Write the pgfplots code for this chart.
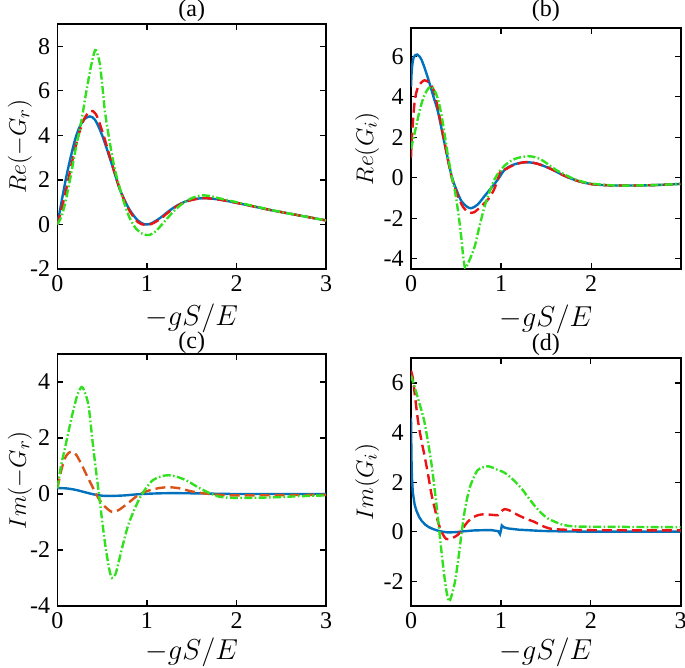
\documentclass[border=0pt]{standalone}
\usepackage{pgfplots}
\pgfplotsset{compat=1.18}
\usepackage{fontspec}
\setmainfont{Liberation Serif}
\definecolor{mblue}{rgb}{0,0.447,0.741}
\definecolor{mred}{rgb}{0.92,0.08,0.08}
\definecolor{morange}{rgb}{0.85,0.325,0.098}
\definecolor{mgreen}{RGB}{50,225,30}
\pgfplotsset{
  common/.style={
    scale only axis,
    xmin=0, xmax=3,
    tick align=inside,
    xtick pos=both, ytick pos=both,
    xticklabel pos=lower, yticklabel pos=left,
    major tick length=3pt,
    every tick/.style={black, line width=0.6pt},
    axis line style={black, line width=0.9pt},
    /pgf/number format/assume math mode=true,
    ticklabel style={font=\fontsize{12}{14}\selectfont},
    xticklabel style={inner sep=1pt, yshift=-2pt},
    yticklabel style={inner sep=1pt, xshift=-2.5pt},
    label style={font=\fontsize{14}{16}\selectfont, inner sep=0pt},
    ylabel style={font=\fontsize{13}{15}\selectfont},
    every axis title/.style={font=\fontsize{12}{14}\selectfont, anchor=center, inner sep=0pt},
    xlabel={$-gS/E$},
  },
  sb/.style={color=mblue, solid, line width=1.2pt},
  sr/.style={color=mred, line width=1.2pt, dash pattern=on 5pt off 2.5pt},
  so/.style={color=morange, line width=1.2pt, dash pattern=on 5pt off 2.5pt},
  sg/.style={color=mgreen, line width=1.2pt, dash pattern=on 4pt off 1.2pt on 0.8pt off 1.2pt},
}
\begin{document}
\begin{tikzpicture}
\path[use as bounding box] (0,0) rectangle (342.5pt,334pt);
% (a)
\begin{axis}[common, at={(28.7pt,199.5pt)}, anchor=south west,
  width=134.35pt, height=122.5pt, ymin=-2, ymax=9, xtick={0,1,2,3}, ytick={-2,0,2,4,6,8},
  title={(a)}, title style={at={(axis description cs:0.5,1.053)}},
  ylabel={$Re(-G_r)$},
  xlabel style={at={(axis description cs:0.5,-0.2)}, anchor=center},
  ylabel style={at={(axis description cs:-0.14,0.5)}, anchor=center}]
\addplot[sb, smooth] coordinates {(0,0) (0.05,1.1) (0.1,2.15) (0.15,3.05) (0.2,3.85) (0.25,4.4) (0.3,4.72) (0.36,4.85) (0.42,4.7) (0.5,4.0) (0.6,2.8) (0.7,1.55) (0.8,0.7) (0.9,0.17) (0.98,0.0) (1.05,0.05) (1.15,0.3) (1.25,0.62) (1.35,0.88) (1.45,1.06) (1.55,1.15) (1.65,1.18) (1.8,1.12) (2.0,0.97) (2.2,0.8) (2.4,0.63) (2.6,0.48) (2.8,0.33) (3.0,0.18)};
\addplot[sr, smooth] coordinates {(0,0) (0.05,0.75) (0.1,1.6) (0.15,2.55) (0.2,3.45) (0.25,4.2) (0.3,4.75) (0.37,5.1) (0.43,4.95) (0.5,4.2) (0.6,2.85) (0.7,1.55) (0.8,0.65) (0.9,0.1) (0.98,-0.02) (1.05,0.02) (1.15,0.25) (1.25,0.58) (1.35,0.86) (1.45,1.04) (1.55,1.14) (1.65,1.18) (1.8,1.12) (2.0,0.97) (2.2,0.8) (2.4,0.63) (2.6,0.48) (2.8,0.33) (3.0,0.18)};
\addplot[sg, smooth] coordinates {(0,0) (0.05,0.4) (0.1,1.2) (0.15,2.2) (0.2,3.3) (0.27,4.7) (0.32,5.9) (0.37,7.0) (0.41,7.7) (0.43,7.82) (0.47,7.3) (0.5,6.3) (0.53,5.1) (0.58,3.8) (0.64,2.5) (0.72,1.3) (0.8,0.35) (0.88,-0.2) (0.96,-0.44) (1.03,-0.47) (1.1,-0.3) (1.2,0.15) (1.3,0.6) (1.4,0.95) (1.5,1.18) (1.6,1.3) (1.7,1.28) (1.8,1.18) (2.0,1.0) (2.2,0.82) (2.4,0.64) (2.6,0.48) (2.8,0.33) (3.0,0.18)};
\end{axis}
% (b)
\begin{axis}[common, at={(205.5pt,199.5pt)}, anchor=south west,
  width=134.85pt, height=120.5pt, xmax=2.995, ymin=-4.5, ymax=7.4, xtick={0,1,2}, ytick={-4,-2,0,2,4,6},
  title={(b)}, title style={at={(axis description cs:0.5,1.07)}},
  ylabel={$Re(G_i)$},
  xlabel style={at={(axis description cs:0.5,-0.207)}, anchor=center},
  ylabel style={at={(axis description cs:-0.163,0.5)}, anchor=center}]
\addplot[sb, smooth] coordinates {(0,4.5) (0.01,5.4) (0.03,5.95) (0.07,6.09) (0.12,5.8) (0.19,4.9) (0.25,4.0) (0.3,3.25) (0.37,1.76) (0.45,0.11) (0.51,-0.65) (0.56,-1.15) (0.62,-1.42) (0.67,-1.5) (0.74,-1.32) (0.82,-0.88) (0.9,-0.45) (0.97,-0.05) (1.04,0.4) (1.12,0.62) (1.2,0.73) (1.28,0.77) (1.36,0.74) (1.43,0.66) (1.55,0.45) (1.65,0.22) (1.73,0.05) (1.85,-0.15) (1.99,-0.3) (2.15,-0.36) (2.36,-0.38) (2.6,-0.37) (2.8,-0.34) (2.99,-0.3)};
\addplot[sr, smooth] coordinates {(0,1.0) (0.01,2.0) (0.04,3.74) (0.08,4.5) (0.15,4.82) (0.21,4.65) (0.26,4.24) (0.3,3.4) (0.37,1.8) (0.45,0.05) (0.52,-0.9) (0.58,-1.45) (0.64,-1.7) (0.7,-1.7) (0.78,-1.4) (0.86,-1.04) (0.93,-0.5) (0.99,0.3) (1.02,0.5) (1.05,0.42) (1.1,0.55) (1.2,0.72) (1.28,0.78) (1.36,0.74) (1.43,0.66) (1.55,0.45) (1.65,0.22) (1.73,0.05) (1.85,-0.15) (1.99,-0.3) (2.15,-0.36) (2.36,-0.38) (2.6,-0.37) (2.8,-0.34) (2.99,-0.3)};
\addplot[sg, smooth] coordinates {(0,1.43) (0.05,2.4) (0.1,3.4) (0.15,4.1) (0.2,4.45) (0.23,4.49) (0.27,4.25) (0.31,3.7) (0.35,2.8) (0.41,1.1) (0.45,0.1) (0.49,-0.7) (0.53,-1.9) (0.56,-3.0) (0.58,-3.9) (0.6,-4.45) (0.62,-4.35) (0.66,-3.95) (0.71,-3.35) (0.76,-2.4) (0.82,-1.37) (0.88,-0.6) (0.93,-0.05) (0.98,0.3) (1.04,0.61) (1.12,0.87) (1.2,1.0) (1.3,1.07) (1.38,1.02) (1.43,0.94) (1.52,0.68) (1.6,0.42) (1.73,0.11) (1.85,-0.12) (2.0,-0.28) (2.2,-0.36) (2.36,-0.38) (2.6,-0.37) (2.8,-0.34) (2.99,-0.3)};
\end{axis}
% (c)
\begin{axis}[common, at={(28.7pt,31pt)}, anchor=south west,
  width=134.35pt, height=126pt, ymin=-4, ymax=5, xtick={0,1,2,3}, ytick={-4,-2,0,2,4},
  title={(c)}, title style={at={(axis description cs:0.5,1.044)}},
  ylabel={$Im(-G_r)$},
  xlabel style={at={(axis description cs:0.5,-0.183)}, anchor=center},
  ylabel style={at={(axis description cs:-0.14,0.5)}, anchor=center}]
\addplot[sb, smooth] coordinates {(0,0.21) (0.1,0.2) (0.2,0.15) (0.3,0.07) (0.4,-0.01) (0.5,-0.06) (0.6,-0.07) (0.75,-0.05) (0.9,-0.01) (1.1,0.02) (1.3,0.03) (1.6,0.02) (2.0,0.0) (3.0,0.0)};
\addplot[so, smooth] coordinates {(0,0.2) (0.04,0.8) (0.08,1.25) (0.12,1.45) (0.16,1.51) (0.21,1.4) (0.27,1.05) (0.33,0.65) (0.38,0.33) (0.46,-0.16) (0.53,-0.45) (0.61,-0.64) (0.68,-0.58) (0.76,-0.4) (0.83,-0.22) (0.9,-0.04) (0.98,0.08) (1.05,0.15) (1.15,0.22) (1.25,0.24) (1.35,0.21) (1.45,0.13) (1.55,0.06) (1.7,0.0) (1.85,-0.04) (2.0,-0.05) (2.5,-0.04) (3.0,-0.03)};
\addplot[sg, smooth] coordinates {(0,0.2) (0.04,1.0) (0.086,1.66) (0.16,2.75) (0.22,3.5) (0.27,3.82) (0.31,3.6) (0.35,3.1) (0.4,1.66) (0.46,0.09) (0.53,-1.72) (0.58,-2.7) (0.61,-3.0) (0.65,-2.85) (0.69,-2.35) (0.74,-1.7) (0.79,-1.12) (0.86,-0.55) (0.94,-0.03) (1.05,0.45) (1.15,0.62) (1.24,0.67) (1.35,0.6) (1.46,0.45) (1.58,0.22) (1.7,0.03) (1.8,-0.09) (1.9,-0.13) (2.1,-0.14) (2.4,-0.12) (2.7,-0.08) (3.0,-0.05)};
\end{axis}
% (d)
\begin{axis}[common, at={(205.5pt,31pt)}, anchor=south west,
  width=134.85pt, height=123.85pt, ymin=-3, ymax=7, xtick={0,1,2,3}, ytick={-2,0,2,4,6},
  title={(d)}, title style={at={(axis description cs:0.5,1.053)}},
  ylabel={$Im(G_i)$},
  xlabel style={at={(axis description cs:0.5,-0.186)}, anchor=center},
  ylabel style={at={(axis description cs:-0.163,0.5)}, anchor=center}]
\addplot[sb] coordinates {(0,4.6) (0.005,3.0) (0.01,2.2) (0.02,1.6) (0.04,1.1) (0.06,0.85) (0.09,0.6) (0.12,0.43) (0.16,0.28) (0.2,0.18) (0.25,0.1) (0.3,0.04) (0.35,0.0) (0.41,-0.03) (0.5,-0.02) (0.6,0.02) (0.7,0.05) (0.8,0.06) (0.9,0.06) (0.97,0.02) (0.99,-0.1) (1.0,0.05) (1.01,0.25) (1.03,0.18) (1.08,0.13) (1.2,0.08) (1.45,0.03) (1.7,0.01) (2.0,0.0) (3.0,0.0)};
\addplot[sr, smooth] coordinates {(0,6.5) (0.02,6.2) (0.05,5.3) (0.08,4.42) (0.12,3.6) (0.15,3.08) (0.19,2.3) (0.23,1.47) (0.27,0.85) (0.3,0.4) (0.34,0.0) (0.39,-0.29) (0.45,-0.27) (0.52,-0.13) (0.58,0.15) (0.63,0.4) (0.7,0.6) (0.76,0.68) (0.82,0.7) (0.9,0.68) (0.97,0.67) (1.0,0.8) (1.04,0.91) (1.1,0.85) (1.19,0.67) (1.28,0.52) (1.37,0.4) (1.45,0.25) (1.54,0.13) (1.65,0.09) (1.8,0.07) (2.0,0.06) (3.0,0.05)};
\addplot[sg, smooth] coordinates {(0,6.3) (0.04,5.85) (0.08,5.35) (0.12,4.85) (0.15,4.42) (0.19,3.6) (0.23,2.68) (0.27,1.5) (0.3,0.54) (0.33,-0.5) (0.36,-1.47) (0.39,-2.3) (0.42,-2.81) (0.45,-2.6) (0.49,-2.0) (0.53,-1.0) (0.56,-0.13) (0.6,0.9) (0.65,1.74) (0.7,2.2) (0.74,2.48) (0.8,2.6) (0.86,2.64) (0.92,2.57) (0.97,2.48) (1.02,2.42) (1.08,2.28) (1.15,2.05) (1.23,1.74) (1.3,1.4) (1.37,1.07) (1.45,0.75) (1.52,0.54) (1.6,0.4) (1.7,0.27) (1.8,0.22) (2.0,0.2) (3.0,0.18)};
\end{axis}
\end{tikzpicture}
\end{document}
